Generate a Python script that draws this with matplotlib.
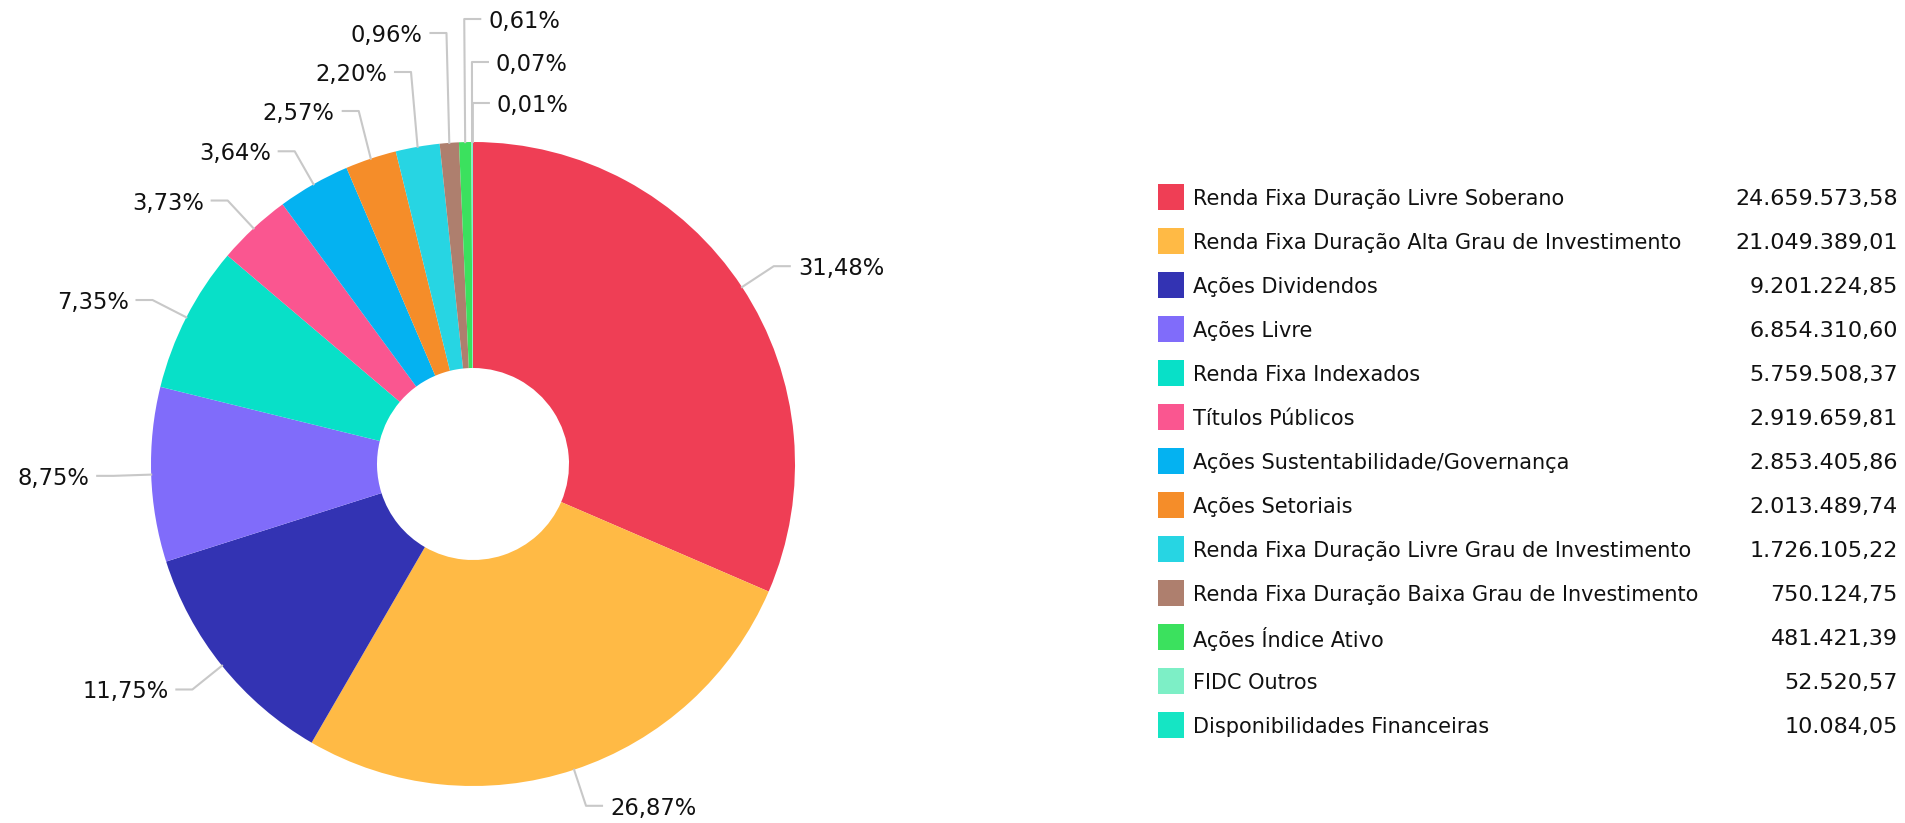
import matplotlib
matplotlib.use("Agg")
import matplotlib.pyplot as plt
import numpy as np

# ---------------- data ----------------
categories = [
    "Renda Fixa Duração Livre Soberano",
    "Renda Fixa Duração Alta Grau de Investimento",
    "Ações Dividendos",
    "Ações Livre",
    "Renda Fixa Indexados",
    "Títulos Públicos",
    "Ações Sustentabilidade/Governança",
    "Ações Setoriais",
    "Renda Fixa Duração Livre Grau de Investimento",
    "Renda Fixa Duração Baixa Grau de Investimento",
    "Ações Índice Ativo",
    "FIDC Outros",
    "Disponibilidades Financeiras",
]
values = [24659573.58, 21049389.01, 9201224.85, 6854310.60, 5759508.37,
          2919659.81, 2853405.86, 2013489.74, 1726105.22, 750124.75,
          481421.39, 52520.57, 10084.05]
value_labels = ["24.659.573,58", "21.049.389,01", "9.201.224,85", "6.854.310,60",
                "5.759.508,37", "2.919.659,81", "2.853.405,86", "2.013.489,74",
                "1.726.105,22", "750.124,75", "481.421,39", "52.520,57", "10.084,05"]
pct_labels = ["31,48%", "26,87%", "11,75%", "8,75%", "7,35%", "3,73%", "3,64%",
              "2,57%", "2,20%", "0,96%", "0,61%", "0,07%", "0,01%"]
colors = ["#EF3E55", "#FFBA45", "#3333B3", "#806CFA", "#08E0C8", "#FA5690",
          "#04B2F1", "#F58D29", "#27D5E3", "#AE7F6E", "#3BE15E", "#7DEFC6", "#15E5C4"]

# ---------------- layout (pixel space) ----------------
W, H = 1906, 823
CX, CY_PIX, R = 473, 464, 322
HOLE = 96
CY = H - CY_PIX
ELBOW_R = 360
# label vertical overrides (pixel y) for crowded labels at top; None = natural
label_y_override = [None, None, None, None, None, None, None, 111, 72, 33, 19, 62, 103]
label_side_override = [None] * 10 + ["right", "right", "right"]
FS_PCT = 16.3
FS_NAME = 15
FS_VAL = 16

fig = plt.figure(figsize=(W / 100, H / 100), dpi=100)
ax = fig.add_axes([0, 0, 1, 1])
ax.set_xlim(0, W)
ax.set_ylim(0, H)
ax.set_aspect("equal")
ax.axis("off")

wedges, _ = ax.pie(values, colors=colors, startangle=90, counterclock=False,
                   center=(CX, CY), radius=R,
                   wedgeprops=dict(width=R - HOLE, linewidth=0))
ax.set_xlim(0, W)
ax.set_ylim(0, H)

line_col = "#c8c8c8"
for i, w in enumerate(wedges):
    ang = np.deg2rad((w.theta1 + w.theta2) / 2)
    x0 = CX + R * np.cos(ang)
    y0 = CY + R * np.sin(ang)
    ex = CX + ELBOW_R * np.cos(ang)
    ey = CY + ELBOW_R * np.sin(ang)
    if label_y_override[i] is not None:
        ey = H - label_y_override[i]
    side = label_side_override[i] or ("right" if np.cos(ang) >= 0 else "left")
    if side == "right":
        hx = ex + 16
        tx = hx + 8
        ha = "left"
    else:
        hx = ex - 16
        tx = hx - 8
        ha = "right"
    ax.plot([x0, ex, hx], [y0, ey, ey], color=line_col, lw=1.5,
            solid_joinstyle="round", zorder=1)
    ax.text(tx, ey, pct_labels[i], ha=ha, va="center_baseline", fontsize=FS_PCT,
            color="#111111", family="DejaVu Sans")

# ---------------- legend ----------------
LX, LY0, LSTEP, SQ = 1158, 197, 44.0, 26
TX, VX = 1193, 1898
for i, (c, lab, v) in enumerate(zip(colors, categories, value_labels)):
    yc = H - (LY0 + i * LSTEP)
    ax.add_patch(plt.Rectangle((LX, yc - SQ / 2), SQ, SQ, facecolor=c,
                               edgecolor="none"))
    ax.text(TX, yc, lab, ha="left", va="center_baseline", fontsize=FS_NAME,
            color="#111111", family="DejaVu Sans")
    ax.text(VX, yc, v, ha="right", va="center_baseline", fontsize=FS_VAL,
            color="#111111", family="DejaVu Sans")

fig.savefig("out.png", dpi=100, facecolor="white")
